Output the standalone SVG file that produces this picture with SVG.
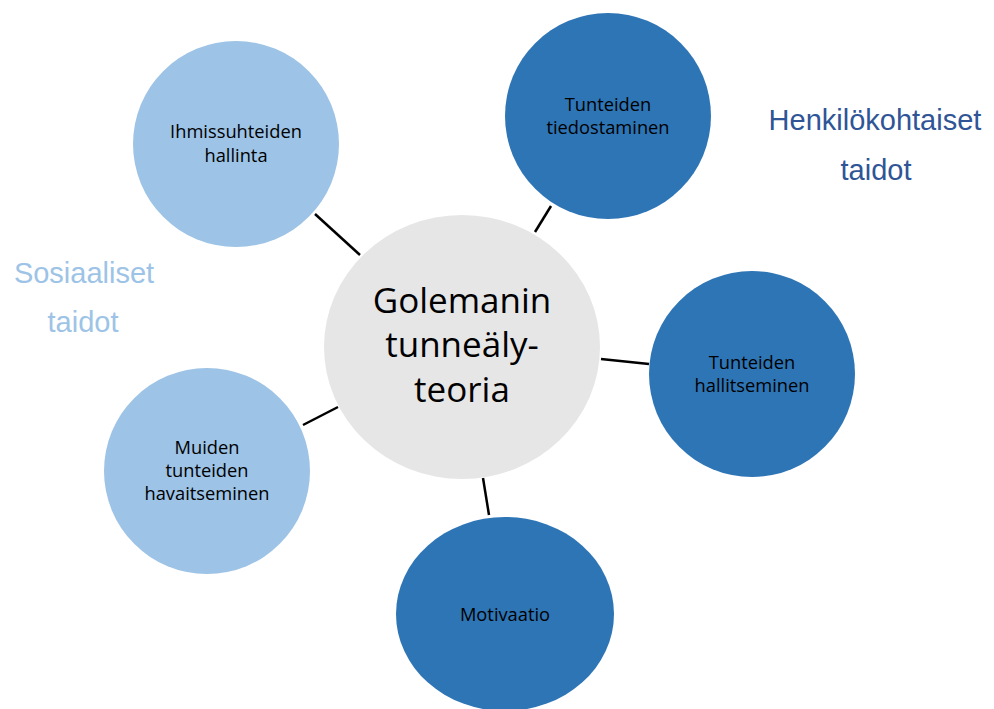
<svg xmlns="http://www.w3.org/2000/svg" width="994" height="709" viewBox="0 0 994 709">
  <style>
    .light { fill: #9dc3e6; }
    .dark { fill: #2e75b6; }
    .core { fill: #e6e6e6; }
    .link { stroke: #000000; stroke-width: 2.5; fill: none; }
    .lbl { font-family: "Open Sans", "Noto Sans", sans-serif; font-size: 18.3px; fill: #000000; text-anchor: middle; }
    .title { font-family: "Open Sans", "Noto Sans", sans-serif; font-size: 35px; fill: #000000; text-anchor: middle; }
    .group { font-family: "Liberation Sans", Arial, sans-serif; font-size: 29px; text-anchor: middle; }
  </style>
  <rect width="994" height="709" fill="#ffffff"/>

  <!-- spokes between the hub and the surrounding skills -->
  <g id="connectors">
    <line class="link" x1="315" y1="214" x2="360" y2="255"/>
    <line class="link" x1="551" y1="206" x2="535" y2="232"/>
    <line class="link" x1="601" y1="359" x2="649" y2="364"/>
    <line class="link" x1="483" y1="478" x2="489" y2="515"/>
    <line class="link" x1="338" y1="407" x2="303" y2="425"/>
  </g>

  <g id="hub">
    <ellipse class="core" cx="462" cy="347" rx="138" ry="132"/>
    <text class="title" x="462" y="313">Golemanin</text>
    <text class="title" x="462" y="357">tunneäly-</text>
    <text class="title" x="462" y="402">teoria</text>
  </g>

  <g id="ihmissuhteiden-hallinta">
    <circle class="light" cx="236" cy="144" r="103"/>
    <text class="lbl" x="236" y="138">Ihmissuhteiden</text>
    <text class="lbl" x="236" y="162">hallinta</text>
  </g>

  <g id="tunteiden-tiedostaminen">
    <circle class="dark" cx="608" cy="116" r="103"/>
    <text class="lbl" x="608" y="111">Tunteiden</text>
    <text class="lbl" x="608" y="134">tiedostaminen</text>
  </g>

  <g id="tunteiden-hallitseminen">
    <circle class="dark" cx="752" cy="374" r="103"/>
    <text class="lbl" x="752" y="369">Tunteiden</text>
    <text class="lbl" x="752" y="392">hallitseminen</text>
  </g>

  <g id="motivaatio">
    <ellipse class="dark" cx="505" cy="614" rx="109" ry="97"/>
    <text class="lbl" x="505" y="621">Motivaatio</text>
  </g>

  <g id="muiden-tunteiden-havaitseminen">
    <circle class="light" cx="207" cy="471" r="103"/>
    <text class="lbl" x="207" y="454">Muiden</text>
    <text class="lbl" x="207" y="477">tunteiden</text>
    <text class="lbl" x="207" y="500">havaitseminen</text>
  </g>

  <g id="henkilokohtaiset-taidot">
    <text class="group" x="875" y="130" fill="#2f5597">Henkilökohtaiset</text>
    <text class="group" x="876" y="180" fill="#2f5597">taidot</text>
  </g>

  <g id="sosiaaliset-taidot">
    <text class="group" x="84" y="283" fill="#9dc3e6">Sosiaaliset</text>
    <text class="group" x="83" y="332" fill="#9dc3e6">taidot</text>
  </g>
</svg>
